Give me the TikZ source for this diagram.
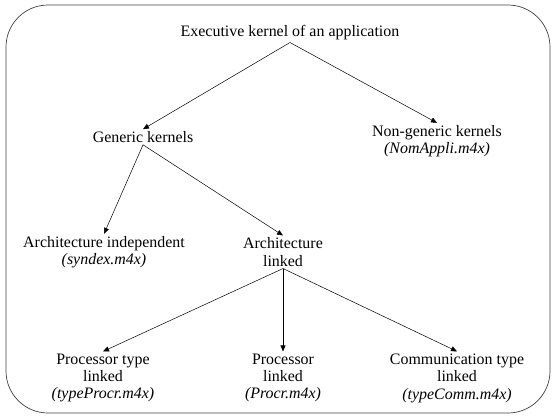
\documentclass[tikz,border=0pt]{standalone}
\usepackage{fontspec}
\setmainfont{Liberation Serif}
\usetikzlibrary{arrows.meta}
\begin{document}
\begin{tikzpicture}[x=1bp,y=-1bp,
  lbl/.style={align=center,inner sep=2pt,font=\fontsize{16}{17.5}\selectfont},
  arr/.style={-{Triangle[length=6bp,width=5bp]},line width=0.5bp}]
\useasboundingbox (0,0) rectangle (556,419);
\draw[line width=0.7bp,black!75,rounded corners=42bp] (6,5) rectangle (550,413);
\node[lbl] (root) at (290,33) {Executive kernel of an application};
\node[lbl] (gen) at (143,137) {Generic kernels};
\node[lbl] (ngen) at (437,141) {Non-generic kernels\\\textit{(NomAppli.m4x)}};
\node[lbl] (ind) at (104,252) {Architecture independent\\\textit{(syndex.m4x)}};
\node[lbl] (lnk) at (283,252) {Architecture\\linked};
\node[lbl] (ptl) at (103,378) {Processor type\\linked\\\textit{(typeProcr.m4x)}};
\node[lbl] (pl) at (283,378) {Processor\\linked\\\textit{(Procr.m4x)}};
\node[lbl] (ctl) at (457,378) {Communication type\\linked\\\textit{(typeComm.m4x)}};
\draw[arr] (root.south) -- (gen.north);
\draw[arr] (root.south) -- (ngen.north);
\draw[arr] (gen.south) -- (ind.north);
\draw[arr] (gen.south) -- (lnk.north);
\draw[arr] (lnk.south) -- (ptl.north);
\draw[arr] (lnk.south) -- (pl.north);
\draw[arr] (lnk.south) -- (ctl.north);
\end{tikzpicture}
\end{document}
